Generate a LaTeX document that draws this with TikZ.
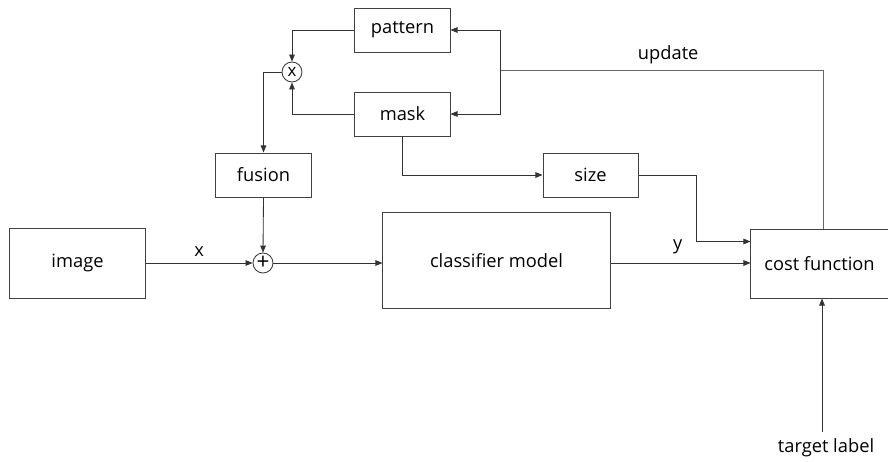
\documentclass[tikz,border=0pt]{standalone}
\usepackage{fontspec}
\setmainfont[Ligatures=NoCommon]{Open Sans}
\usetikzlibrary{arrows.meta}

\tikzset{
	block/.style={draw=black!75, line width=0.7pt, inner sep=0pt, minimum width=#1, minimum height=1.1cm, font=\fontsize{13}{15}\selectfont},
	block/.default=2.375cm,
	op/.style={draw=black!80, circle, line width=0.6pt, inner sep=0pt, minimum size=0.5cm, font=\fontsize{12}{14}\selectfont},
	link/.style={draw=black!80, line width=0.6pt, -{Triangle[length=5pt,width=4pt]}},
	wire/.style={draw=black!60, line width=0.7pt},
	tag/.style={font=\fontsize{13}{15}\selectfont}
}

\begin{document}
\begin{tikzpicture}[x=0.025cm, y=-0.025cm]
	\useasboundingbox (0,0) rectangle (888,461);

	% blocks
	\node[block=3.375cm, minimum height=1.75cm] (image) at (77.5,263) {image};
	\node[block] (fusion) at (263.5,175) {fusion};
	\node[block=5.675cm, minimum height=2.375cm] (classifier) at (496.5,260.5) {classifier model};
	\node[block=3.425cm, minimum height=1.725cm] (cost) at (819.5,263.5) {cost function};
	\node[block] (pattern) at (402.5,30) {pattern};
	\node[block] (mask) at (402.5,114) {mask};
	\node[block] (size) at (590.5,175) {size};

	% operators
	\node[op] (times) at (292,72) {x};
	\node[op, font=\fontsize{16}{16}\selectfont] (plus) at (263,263) {+};

	% helper points
	\coordinate (target) at (822,432);
	\coordinate (split) at (500,70);

	% main signal path
	\draw[link] (image.east) -- node[tag, above=1pt] {x} (plus.west);
	\draw[link] (plus.east) -- (classifier.west |- plus);
	\draw[link] (classifier.east |- plus) -- node[tag, above=3pt, pos=0.48] {y} (cost.west |- plus);
	\draw[link] (fusion.south) -- (plus.north);

	% pattern and mask feed the product
	\draw[link] (pattern.west) -| (times.north);
	\draw[link] (mask.west) -| (times.south);
	\draw[link] (times.west) -| (fusion.north);

	% mask size term
	\draw[link] (mask.south) |- (size.west);
	\draw[link] (size.east) -- ++(58,0) |- ([yshift=0.55cm]cost.west);

	% update loop
	\draw[wire] ([xshift=0.1cm]cost.north) |- (split) node[tag, pos=0.74, above=1pt, black] {update};
	\draw[link] (split) |- (pattern.east);
	\draw[link] (split) |- (mask.east);

	% target input
	\draw[link] (target) -- (target |- cost.south);
	\node[tag] (targetlabel) at (826,448) {target label};
\end{tikzpicture}
\end{document}
